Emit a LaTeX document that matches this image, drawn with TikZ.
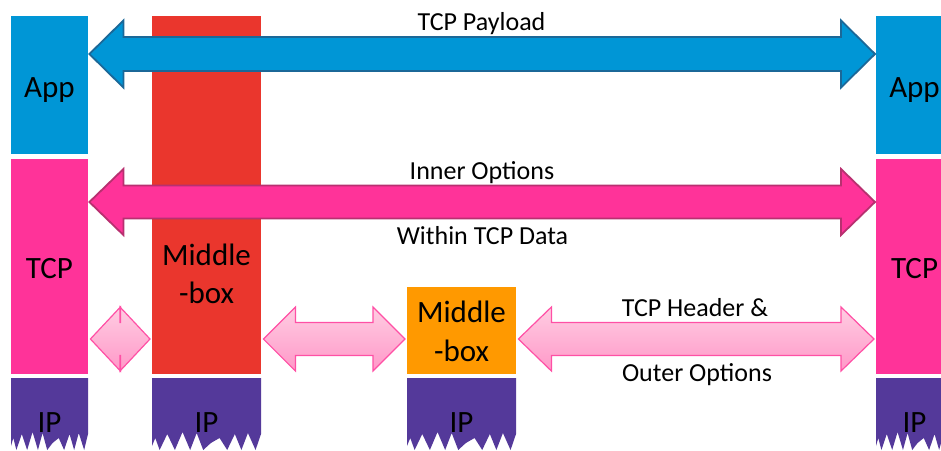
\documentclass[tikz,border=0pt]{standalone}
\usepackage{fontspec}
\setmainfont{Carlito}
\usetikzlibrary{calc}
\definecolor{appblue}{RGB}{0,150,214}
\definecolor{tcppink}{RGB}{255,51,153}
\definecolor{mbred}{RGB}{234,54,45}
\definecolor{mborange}{RGB}{255,153,0}
\definecolor{ippurple}{RGB}{84,57,154}
\definecolor{blueedge}{RGB}{27,104,152}
\definecolor{pinkedge}{RGB}{184,48,112}
\definecolor{lightedge}{RGB}{255,80,165}
\definecolor{lighttop}{RGB}{255,205,226}
\definecolor{lightbot}{RGB}{255,152,200}

\newcommand\mkfatarrow[8]{%
  \draw[#1] let \p1=(#2.east), \p2=(#3.west) in
    (\x1+#8pt,-#4pt) -- (\x1+#8pt+#7pt,-#4pt+#5pt) -- (\x1+#8pt+#7pt,-#4pt+#6pt)
    -- (\x2-#8pt-#7pt,-#4pt+#6pt) -- (\x2-#8pt-#7pt,-#4pt+#5pt) -- (\x2-#8pt,-#4pt)
    -- (\x2-#8pt-#7pt,-#4pt-#5pt) -- (\x2-#8pt-#7pt,-#4pt-#6pt)
    -- (\x1+#8pt+#7pt,-#4pt-#6pt) -- (\x1+#8pt+#7pt,-#4pt-#5pt) -- cycle;}

\newcommand\ipshape[2]{%
  \begin{scope}[shift={(#1,378)}, xscale=#2/100]
    \fill[ippurple] (0,0) -- (100,0) -- (100,56) -- (95,72) -- (88,55) -- (82,72)
      -- (76,56) -- (69,72) -- (62,60) -- (54,65) -- (47,72) -- (41,55) -- (35,72)
      -- (28,54) -- (21,72) -- (14,56) -- (7,72) -- (3,60) -- (0,68) -- cycle;
  \end{scope}}

\tikzset{
  box/.style={rectangle, inner sep=0pt, anchor=north west, draw=none},
  bigtxt/.style={font=\fontsize{31}{37}\selectfont, anchor=base, inner sep=0pt},
  labeltxt/.style={font=\fontsize{26}{30}\selectfont, anchor=base, inner sep=0pt},
  bluearrow/.style={fill=appblue, draw=blueedge, line width=1.8pt, line join=miter},
  pinkarrow/.style={fill=tcppink, draw=pinkedge, line width=1.8pt, line join=miter},
  lightarrow/.style={top color=lighttop, bottom color=lightbot, draw=lightedge, line width=1.2pt, line join=miter},
}

\begin{document}
\begin{tikzpicture}[x=1pt, y=-1pt]
\useasboundingbox (0,0) rectangle (941,450);
\clip (0,0) rectangle (941,450);

% layer boxes
\node[box, fill=appblue, minimum width=77pt, minimum height=138pt] (appL) at (11,16) {};
\node[box, fill=tcppink, minimum width=77pt, minimum height=215.5pt] (tcpL) at (11,158.5) {};
\node[box, fill=appblue, minimum width=77pt, minimum height=138pt] (appR) at (876,16) {};
\node[box, fill=tcppink, minimum width=77pt, minimum height=215.5pt] (tcpR) at (876,158.5) {};
\node[box, fill=mbred, minimum width=109pt, minimum height=358pt] (mbRed) at (152,16) {};
\node[box, fill=mborange, minimum width=109pt, minimum height=87pt] (mbOrange) at (407,287) {};

% IP boxes with torn bottoms
\ipshape{11}{77}
\ipshape{152}{109}
\ipshape{407}{109}
\ipshape{876}{77}

% arrows
\mkfatarrow{bluearrow}{appL}{appR}{54}{33.5}{17}{34}{1}
\mkfatarrow{pinkarrow}{tcpL}{tcpR}{202}{33}{16.5}{34}{1}
\mkfatarrow{lightarrow}{tcpL}{mbRed}{339}{32}{16.5}{30}{2}
\mkfatarrow{lightarrow}{mbRed}{mbOrange}{339}{32}{16.5}{32}{2}
\mkfatarrow{lightarrow}{mbOrange}{tcpR}{339}{32}{16.5}{33}{2}

% texts
\node[bigtxt] (tAppL) at (49.5,97) {App};
\node[bigtxt] (tAppR) at (914.5,97) {App};
\node[bigtxt] (tTcpL) at (49.5,278) {TCP};
\node[bigtxt] (tTcpR) at (914.5,278) {TCP};
\node[bigtxt] (tRed1) at (206.5,265) {Middle};
\node[bigtxt] (tRed2) at (206.5,303) {-box};
\node[bigtxt] (tOr1) at (461.5,322) {Middle};
\node[bigtxt] (tOr2) at (461.5,361) {-box};
\node[bigtxt] (tIp1) at (49.5,432) {IP};
\node[bigtxt] (tIp2) at (206.5,432) {IP};
\node[bigtxt] (tIp3) at (461.5,432) {IP};
\node[bigtxt] (tIp4) at (914.5,432) {IP};

\node[labeltxt] (lPay) at (481.5,30) {TCP Payload};
\node[labeltxt] (lInner) at (482,179) {Inner Options};
\node[labeltxt] (lWithin) at (482.5,244) {Within TCP Data};
\node[labeltxt] (lHead) at (695,316) {TCP Header \&};
\node[labeltxt] (lOuter) at (697,381) {Outer Options};
\end{tikzpicture}
\end{document}
